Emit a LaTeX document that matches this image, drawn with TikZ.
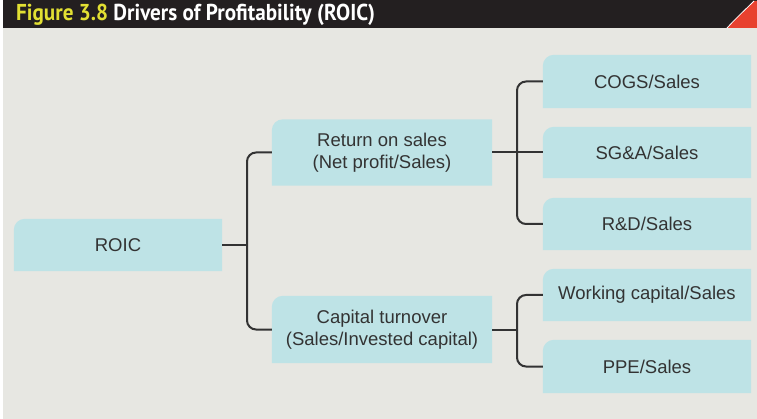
\documentclass[tikz,border=0pt]{standalone}
\usepackage{fontspec}
\usepackage{graphicx}
\setmainfont{Liberation Sans}
\newfontfamily\titlefont{PT Sans}
\usetikzlibrary{backgrounds}
\definecolor{barblack}{HTML}{231F20}
\definecolor{titleyellow}{HTML}{E2E033}
\definecolor{cornerred}{HTML}{E8412F}
\definecolor{bggray}{HTML}{E7E7E2}
\definecolor{boxcyan}{HTML}{BEE3E6}
\definecolor{inkgray}{HTML}{333333}
\tikzset{
  box/.style={rectangle, inner sep=0pt, align=center, text=inkgray,
    font=\fontsize{18.5}{22}\selectfont},
  link/.style={draw=inkgray, line width=2pt},
}
\newcommand{\boxfill}[1]{%
  \fill[boxcyan] (#1.south west) -- ([yshift=-11pt]#1.north west)
    .. controls ([yshift=-5pt]#1.north west) and ([xshift=5pt]#1.north west) .. ([xshift=11pt]#1.north west)
    -- (#1.north east) -- (#1.south east) -- cycle;}
\begin{document}
\begin{tikzpicture}[x=1pt,y=-1pt]
\useasboundingbox (0,0) rectangle (757,419);
% nodes
\node[box, minimum width=208pt, minimum height=52pt] (roic) at (118,245) {ROIC};
\node[box, minimum width=220pt, minimum height=66pt] (ros) at (382,152.5) {Return on sales\\(Net profit/Sales)};
\node[box, minimum width=220pt, minimum height=67pt] (ct) at (382,329.5) {Capital turnover\\(Sales/Invested capital)};
\node[box, minimum width=208pt, minimum height=53pt] (cogs) at (647,81.5) {COGS/Sales};
\node[box, minimum width=208pt, minimum height=51pt] (sga) at (647,152.5) {SG\&A/Sales};
\node[box, minimum width=208pt, minimum height=52pt] (rd) at (647,224) {R\&D/Sales};
\node[box, minimum width=208pt, minimum height=52pt] (wc) at (647,295) {Working capital/Sales};
\node[box, minimum width=208pt, minimum height=53pt] (ppe) at (647,366.5) {PPE/Sales};
% title
\node[anchor=base west, inner sep=0pt, font=\titlefont\bfseries\fontsize{23}{26}\selectfont] (title) at (16,21)
  {\scalebox{0.92}[1]{\textcolor{titleyellow}{Figure 3.8} \textcolor{white}{Drivers of Profitability (ROIC)}}};
% background layer
\begin{scope}[on background layer]
  \fill[bggray] (3,28) rectangle (757,419);
  \fill[barblack] (3,0) rectangle (757,28);
  \fill[cornerred] (727,28) .. controls (737,17) and (746,9) .. (754,1) -- (757,1) -- (757,28) -- cycle;
  \draw[white, line width=0.8pt] (727,28) .. controls (737,17) and (746,9) .. (754,1);
  \boxfill{roic}
  \boxfill{ros}
  \boxfill{ct}
  \boxfill{cogs}
  \boxfill{sga}
  \boxfill{rd}
  \boxfill{wc}
  \boxfill{ppe}
\end{scope}
% connectors
\coordinate (j1) at (247,245);
\coordinate (j2) at (517,152.5);
\coordinate (j3) at (517,329.5);
\draw[link] (roic.east) -- (j1);
\draw[link, rounded corners=9pt] (ros.west) -| (j1) |- (ct.west);
\draw[link] (ros.east) -- (sga.west);
\draw[link, rounded corners=9pt] (cogs.west) -| (j2) |- (rd.west);
\draw[link] (ct.east) -- (j3);
\draw[link, rounded corners=9pt] (wc.west) -| (j3) |- (ppe.west);
\end{tikzpicture}
\end{document}
